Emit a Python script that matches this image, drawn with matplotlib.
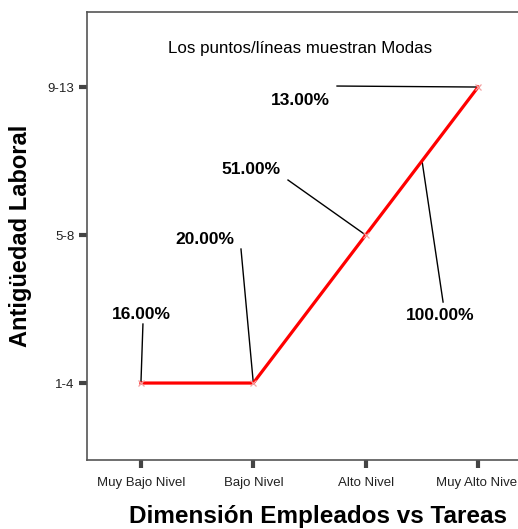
import matplotlib
matplotlib.use("Agg")
import matplotlib.pyplot as plt

plt.rcParams['font.family'] = ['Liberation Sans', 'DejaVu Sans']

categories = ["Muy Bajo Nivel", "Bajo Nivel", "Alto Nivel", "Muy Alto Nivel"]
y_labels = ["1-4", "5-8", "9-13"]
modes = [1, 1, 2, 3]
point_pcts = ["16.00%", "20.00%", "51.00%", "13.00%"]
line_pct = "100.00%"


def px(x, y):
    # pixel position in the picture -> data coords
    return ((x - 141) / 112.33, 1 + (383 - y) / 148.0)


fig = plt.figure(figsize=(5.18, 5.29), dpi=100)
# the plot frame runs past the right edge of the picture
ax = fig.add_axes([87 / 518, 69 / 529, 463 / 518, 448 / 529])

xs = list(range(len(categories)))
ax.plot(xs, modes, color="red", lw=2.3, zorder=3)
ax.plot(xs, modes, ls="none", marker="x", ms=4, mew=0.9, color="#f4a0a0", zorder=4)

ax.set_xlim(-0.48, 3.64)
ax.set_ylim(0.48, 3.507)
ax.set_xticks(xs)
ax.set_xticklabels(categories, fontsize=9.5, color="#222222")
ax.set_yticks([1, 2, 3])
ax.set_yticklabels(y_labels, fontsize=9.5, color="#222222")
ax.tick_params(length=6, width=3, color="#444444")
ax.tick_params(axis="x", pad=6)
ax.tick_params(axis="y", pad=3)
for s in ax.spines.values():
    s.set_color("#555555")
    s.set_linewidth(1.2)

ax.set_ylabel("Antigüedad Laboral", fontsize=17, fontweight="bold", va="center")
ax.yaxis.set_label_coords(-62 / 430, 0.5)
ax.set_xlabel("Dimensión Empleados vs Tareas", fontsize=17.5, fontweight="bold", va="center")
ax.xaxis.set_label_coords(0.499, -57 / 448)

ax.text(*px(300, 48), "Los puntos/líneas muestran Modas", fontsize=12.2,
        ha="center", va="center")

# labels for each point: text pos, line start
label_pos = [(141, 314), (205, 239), (251, 169), (300, 100)]
line_start = [(143, 324), (241, 249), (288, 180), (337, 86)]
for i, pct in enumerate(point_pcts):
    ax.text(*px(*label_pos[i]), pct, fontsize=12.5, fontweight="bold",
            ha="center", va="center")
    x0, y0 = px(*line_start[i])
    ax.plot([x0, xs[i]], [y0, modes[i]], color="black", lw=1, zorder=2)

# label for the whole line
ax.text(*px(440, 315), line_pct, fontsize=12.5, fontweight="bold",
        ha="center", va="center")
x0, y0 = px(443, 302)
x1, y1 = px(422, 161)
ax.plot([x0, x1], [y0, y1], color="black", lw=1, zorder=2)

fig.savefig("out.png", dpi=100)
